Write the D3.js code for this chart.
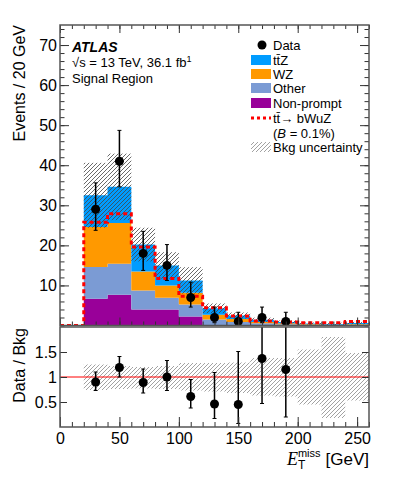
<!DOCTYPE html>
<html>
<meta charset="utf-8">
<style>
body { margin: 0; background: #fff; }
text { font-family: "Liberation Sans", Arial, sans-serif; fill: #000; }
</style>
<script src="https://d3js.org/d3.v7.min.js"></script>
<body>
<script>
  // bins: 20 GeV wide, lower edges
  var binLow = [0, 20, 40, 60, 80, 100, 120, 140, 160, 180, 200, 220, 240];
  var binWidth = 20;

  // stacked backgrounds (events per bin)
  var nonPrompt = [0, 6.7, 7.7, 4.0, 4.0, 2.25, 0.1, 0.05, 0.05, 0, 0, 0, 0];
  var other     = [0, 7.9, 7.7, 4.75, 2.9, 3.0, 1.4, 0.8, 0.5, 0.3, 0.15, 0.1, 0.15];
  var wz        = [0, 10.0, 10.2, 4.75, 3.1, 2.95, 1.2, 0.75, 0.35, 0.25, 0.15, 0.1, 0.15];
  var ttz       = [0, 7.9, 9.0, 6.7, 5.0, 3.05, 1.6, 0.9, 0.55, 0.35, 0.2, 0.2, 0.3];
  var bkgUnc    = [0, 8.1, 8.3, 4.2, 3.3, 3.3, 1.2, 0.75, 0.5, 0.35, 0.25, 0.3, 0.3];
  var signal    = [0, 25.8, 27.9, 19.6, 11.7, 7.3, 4.4, 2.4, 1.1, 0.9, 0.7, 0.7, 1.0];

  // data
  var dataX  = [30, 50, 70, 90, 110, 130, 150, 170, 190];
  var data   = [29, 41, 18, 15, 7, 2, 1, 2, 1];
  var dataHi = [35.6, 48.7, 23.5, 20.2, 10.8, 4.6, 3.3, 4.6, 3.3];
  var dataLo = [23.75, 34.6, 13.75, 11.25, 4.6, 0.7, 0.17, 0.7, 0.17];

  // ratio panel
  var ratio   = [0.90, 1.19, 0.89, 1.0, 0.61, 0.46, 0.45, 1.37, 1.15];
  var ratioHi = [1.10, 1.41, 1.16, 1.33, 0.95, 1.09, 1.51, 2.6, 2.6];
  var ratioLo = [0.73, 1.0, 0.68, 0.73, 0.38, 0.17, 0.07, 0.47, 0.2];
  var bandHi  = [null, 1.25, 1.22, 1.2, 1.22, 1.28, 1.28, 1.29, 1.38, 1.38, 1.55, 1.8, 1.48];
  var bandLo  = [null, 0.74, 0.76, 0.77, 0.76, 0.73, 0.71, 0.68, 0.63, 0.61, 0.45, 0.18, 0.53];

  var yTicks = [10, 20, 30, 40, 50, 60, 70];
  var rTicks = [0.5, 1, 1.5];
  var xTicks = [0, 50, 100, 150, 200, 250];

  var colors = { np: "#990099", other: "#7b9bd4", wz: "#ff9900", ttz: "#009cff" };

  var W = 399, H = 483;
  var svg = d3.select("body").append("svg").attr("width", W).attr("height", H);

  var x = d3.scaleLinear().domain([0, 260]).range([60, 369]);
  var y = d3.scaleLinear().domain([0, 75]).range([325.5, 25]);
  var yr = d3.scaleLinear().domain([0, 2]).range([427, 327]);

  var defs = svg.append("defs");
  function hatch(id, col) {
    defs.append("pattern").attr("id", id).attr("patternUnits", "userSpaceOnUse")
      .attr("width", 4).attr("height", 4)
      .append("path").attr("d", "M-1,1 l2,-2 M0,4 l4,-4 M3,5 l2,-2")
      .attr("stroke", col).attr("stroke-width", 0.8);
  }
  hatch("hatchTop", "#444");
  hatch("hatchRatio", "#8a8a8a");
  defs.append("clipPath").attr("id", "clipTop").append("rect")
    .attr("x", 60).attr("y", 25).attr("width", 309).attr("height", 301);
  defs.append("clipPath").attr("id", "clipRatio").append("rect")
    .attr("x", 60).attr("y", 327).attr("width", 309).attr("height", 100);

  // ---- upper panel ----
  var rows = binLow.map(function(lo, i) {
    return { lo: lo, np: nonPrompt[i], other: other[i], wz: wz[i], ttz: ttz[i] };
  });
  var stack = d3.stack().keys(["np", "other", "wz", "ttz"])(rows);

  var upper = svg.append("g").attr("clip-path", "url(#clipTop)");

  function stepPoints(vals0, vals1) {
    var pts = [];
    binLow.forEach(function(lo, i) {
      pts.push({ x: lo, y0: vals0[i], y1: vals1[i] });
      pts.push({ x: lo + binWidth, y0: vals0[i], y1: vals1[i] });
    });
    return pts;
  }

  var area = d3.area().x(function(d) { return x(d.x); })
    .y0(function(d) { return y(d.y0); }).y1(function(d) { return y(d.y1); });

  stack.forEach(function(layer) {
    var pts = stepPoints(layer.map(function(d) { return d[0]; }), layer.map(function(d) { return d[1]; }));
    upper.append("path").attr("d", area(pts)).attr("fill", colors[layer.key]);
  });

  var total = binLow.map(function(lo, i) { return nonPrompt[i] + other[i] + wz[i] + ttz[i]; });
  upper.selectAll(".unc").data(binLow).enter().append("rect")
    .filter(function(d, i) { return bkgUnc[i] > 0; })
    .attr("x", function(d) { return x(d); })
    .attr("width", x(binWidth) - x(0))
    .attr("y", function(d) { var i = binLow.indexOf(d); return y(total[i] + bkgUnc[i]); })
    .attr("height", function(d) { var i = binLow.indexOf(d); return y(total[i] - bkgUnc[i]) - y(total[i] + bkgUnc[i]); })
    .attr("fill", "url(#hatchTop)");

  var sigLine = d3.line().x(function(d) { return x(d.x); }).y(function(d) { return y(d.y1); });
  upper.append("path").attr("d", sigLine(stepPoints(signal, signal)))
    .attr("fill", "none").attr("stroke", "#ff0000").attr("stroke-width", 3)
    .attr("stroke-dasharray", "4,3");

  function drawPoints(g, ys, vals, lo, hi) {
    dataX.forEach(function(xv, i) {
      g.append("line").attr("x1", x(xv)).attr("x2", x(xv))
        .attr("y1", ys(lo[i])).attr("y2", ys(hi[i]))
        .attr("stroke", "#000").attr("stroke-width", 1.5);
      [lo[i], hi[i]].forEach(function(v) {
        g.append("line").attr("x1", x(xv) - 2).attr("x2", x(xv) + 2)
          .attr("y1", ys(v)).attr("y2", ys(v))
          .attr("stroke", "#000").attr("stroke-width", 1);
      });
      g.append("circle").attr("cx", x(xv)).attr("cy", ys(vals[i])).attr("r", 4.5).attr("fill", "#000");
    });
  }
  drawPoints(upper, y, data, dataLo, dataHi);

  // ---- ratio panel ----
  var bot = svg.append("g").attr("clip-path", "url(#clipRatio)");
  bot.selectAll(".band").data(binLow).enter().append("rect")
    .filter(function(d, i) { return bandHi[i] != null; })
    .attr("x", function(d) { return x(d); })
    .attr("width", x(binWidth) - x(0))
    .attr("y", function(d) { return yr(bandHi[binLow.indexOf(d)]); })
    .attr("height", function(d) { var i = binLow.indexOf(d); return yr(bandLo[i]) - yr(bandHi[i]); })
    .attr("fill", "url(#hatchRatio)");
  bot.append("line").attr("x1", x(0)).attr("x2", x(260)).attr("y1", yr(1)).attr("y2", yr(1))
    .attr("stroke", "#ff0000").attr("stroke-width", 1);
  drawPoints(bot, yr, ratio, ratioLo, ratioHi);

  // ---- axes (ticks inside, mirrored) ----
  function ticks(axis, tx, ty, vals, size, labels) {
    var g = svg.append("g").attr("transform", "translate(" + tx + "," + ty + ")")
      .call(axis.tickValues(vals).tickSize(size).tickSizeOuter(0)
        .tickFormat(labels ? d3.format("") : ""));
    g.select(".domain").remove();
    g.selectAll(".tick line").attr("stroke", "#333").attr("stroke-width", 1);
    g.selectAll(".tick text").style("font-size", "16px").style("font-family", "Liberation Sans, Arial, sans-serif");
    return g;
  }
  var minorY = d3.range(0, 76, 2);
  var minorX = d3.range(0, 261, 10);
  // upper y
  ticks(d3.axisLeft(y), 60, 0, minorY, -4.5, false);
  ticks(d3.axisLeft(y), 60, 0, yTicks, -9, true).selectAll(".tick text").attr("x", -3);
  ticks(d3.axisRight(y), 369, 0, minorY, -4.5, false);
  ticks(d3.axisRight(y), 369, 0, yTicks, -9, false);
  // upper x
  ticks(d3.axisBottom(x), 0, 325.5, minorX, -4, false);
  ticks(d3.axisBottom(x), 0, 325.5, xTicks, -8, false);
  ticks(d3.axisTop(x), 0, 25, minorX, -4, false);
  ticks(d3.axisTop(x), 0, 25, xTicks, -8, false);
  // ratio y
  ticks(d3.axisLeft(yr), 60, 0, rTicks, -7, true).selectAll(".tick text").attr("x", -3);
  ticks(d3.axisRight(yr), 369, 0, rTicks, -7, false);
  // ratio x
  ticks(d3.axisBottom(x), 0, 427, minorX, -5, false);
  var xb = ticks(d3.axisBottom(x), 0, 427, xTicks, -10, true);
  xb.selectAll(".tick text").attr("y", 6).attr("dy", "0.71em");

  // frames
  svg.append("rect").attr("x", 60).attr("y", 25).attr("width", 309).attr("height", 300.5)
    .attr("fill", "none").attr("stroke", "#555").attr("stroke-width", 1.5);
  svg.append("rect").attr("x", 60).attr("y", 327).attr("width", 309).attr("height", 100)
    .attr("fill", "none").attr("stroke", "#555").attr("stroke-width", 1.5);

  // axis titles
  svg.append("text").attr("transform", "translate(25,25) rotate(-90)")
    .attr("text-anchor", "end").style("font-size", "16px").text("Events / 20 GeV");
  svg.append("text").attr("transform", "translate(25,328) rotate(-90)")
    .attr("text-anchor", "end").style("font-size", "16px").text("Data / Bkg");

  var gev = svg.append("text").attr("x", 369).attr("y", 465).attr("text-anchor", "end")
    .style("font-size", "17px").text("[GeV]");
  var gl = gev.node().getComputedTextLength();
  var miss = svg.append("text").attr("x", 369 - gl - 5).attr("y", 457).attr("text-anchor", "end")
    .style("font-size", "11px").text("miss");
  var ml = miss.node().getComputedTextLength();
  svg.append("text").attr("x", 369 - gl - 5 - ml).attr("y", 469).style("font-size", "12px").text("T");
  svg.append("text").attr("x", 369 - gl - 5 - ml).attr("y", 465).attr("text-anchor", "end")
    .style("font-size", "18px").style("font-family", "Liberation Serif, serif").style("font-style", "italic")
    .text("E");

  // ATLAS label
  svg.append("text").attr("x", 72).attr("y", 52).style("font-size", "14px")
    .style("font-weight", "bold").style("font-style", "italic").text("ATLAS");
  var lum = svg.append("text").attr("x", 72).attr("y", 67).style("font-size", "13px");
  lum.append("tspan").text("\u221as = 13 TeV, 36.1 fb");
  lum.append("tspan").attr("dy", -5).style("font-size", "9px").text("1");
  svg.append("text").attr("x", 72).attr("y", 83).style("font-size", "13px").text("Signal Region");

  // legend
  var lx = 251, tx = 273;
  var leg = svg.append("g");
  function legText(yc, s) {
    return leg.append("text").attr("x", tx).attr("y", yc + 4.5).style("font-size", "13px").text(s);
  }
  leg.append("circle").attr("cx", 262).attr("cy", 45).attr("r", 4.5).attr("fill", "#000");
  legText(45, "Data");
  var boxes = [["ttz", "t\u0074\u0304Z", 60], ["wz", "WZ", 74], ["other", "Other", 88], ["np", "Non-prompt", 103]];
  boxes.forEach(function(b) {
    leg.append("rect").attr("x", lx).attr("y", b[2] - 5).attr("width", 20).attr("height", 10).attr("fill", colors[b[0]]);
    legText(b[2], b[1]);
  });
  leg.append("line").attr("x1", lx).attr("x2", lx + 20).attr("y1", 118).attr("y2", 118)
    .attr("stroke", "#ff0000").attr("stroke-width", 3).attr("stroke-dasharray", "3,3");
  legText(118, "t\u0074\u0304\u2192 bWuZ");
  var br = legText(133, "(");
  br.append("tspan").style("font-style", "italic").text("B");
  br.append("tspan").text(" = 0.1%)");
  leg.append("rect").attr("x", lx).attr("y", 142).attr("width", 20).attr("height", 10).attr("fill", "url(#hatchRatio)");
  legText(147, "Bkg uncertainty");
</script>
</body>
</html>
